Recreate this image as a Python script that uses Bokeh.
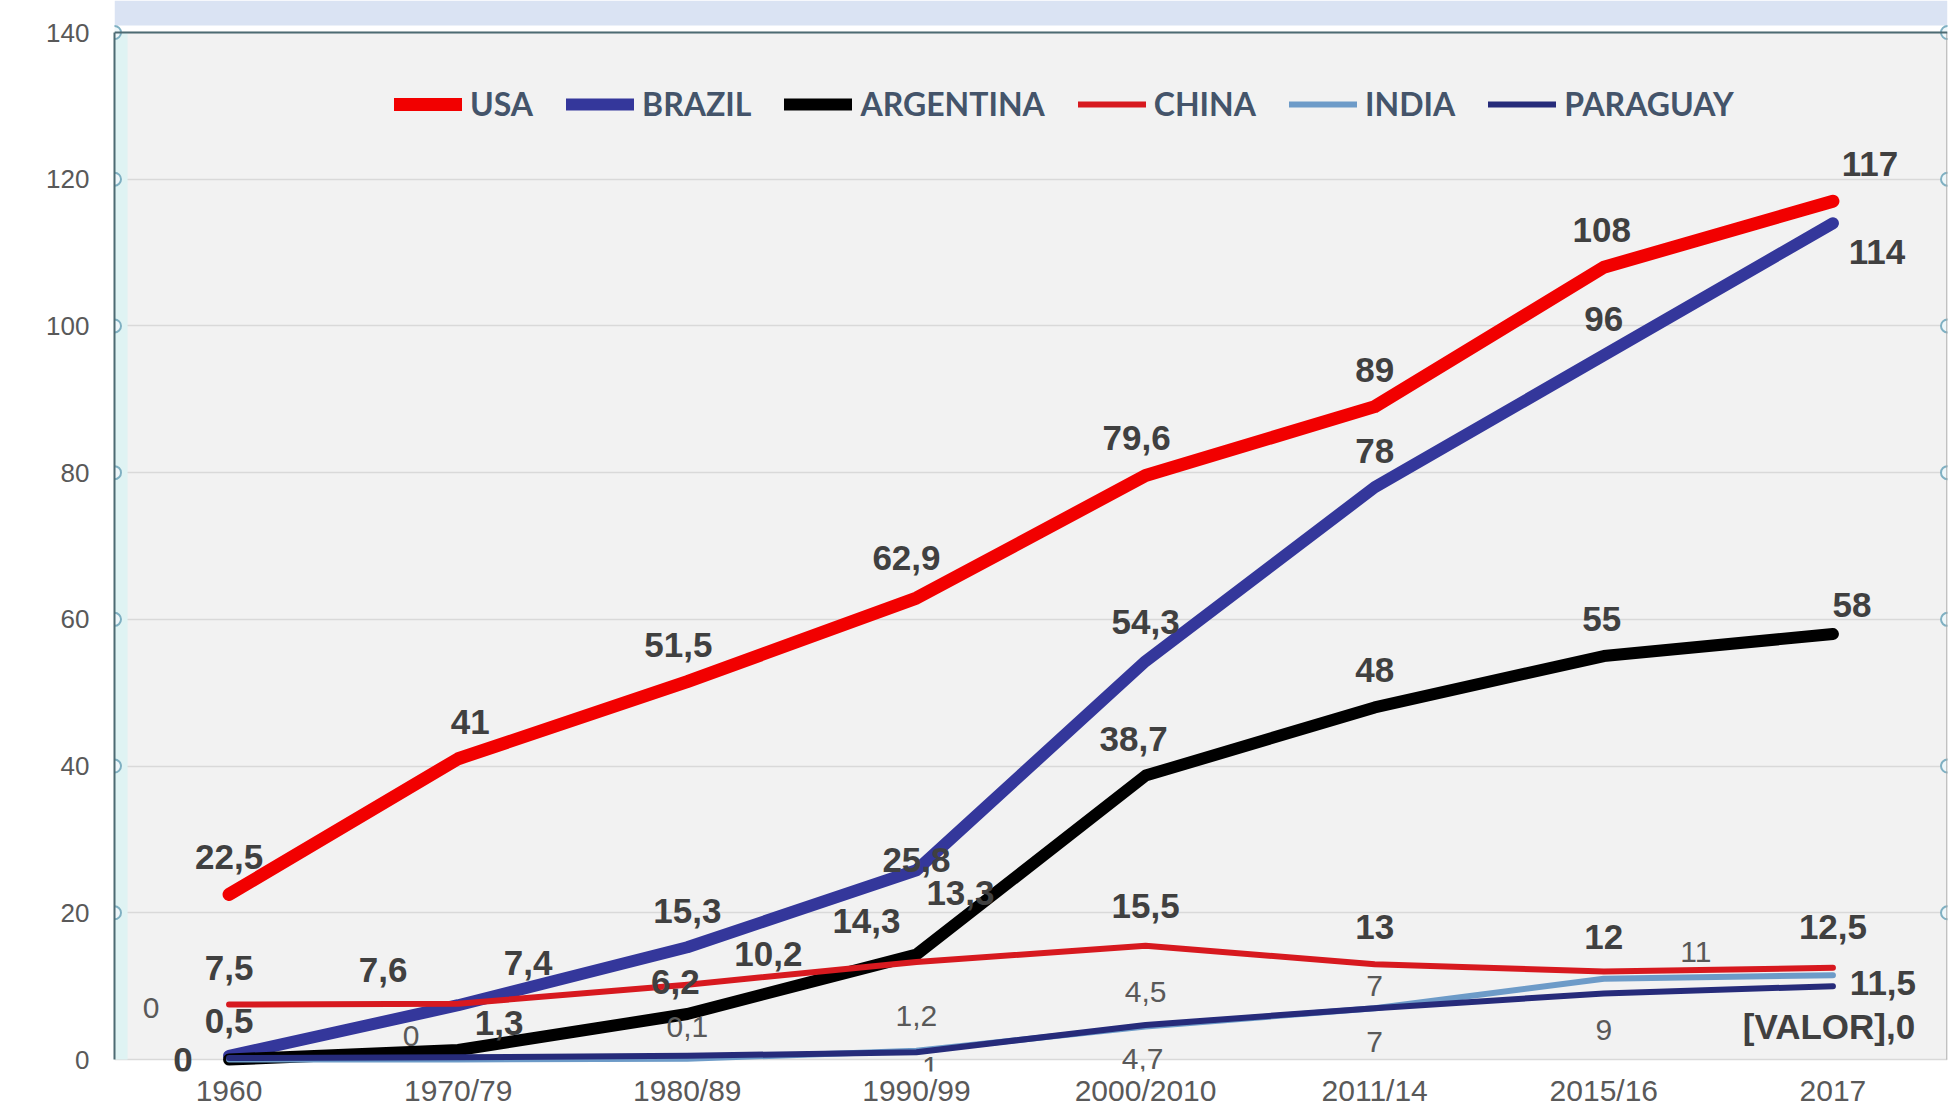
from bokeh.plotting import figure
from bokeh.models import (FactorRange, Range1d, Legend, LegendItem, ColumnDataSource,
                          Span, BoxAnnotation, FixedTicker)
from bokeh.embed import file_html
from bokeh.resources import INLINE
from bokeh.core.properties import value

# ---------------- data ----------------
periods = ["1960", "1970/79", "1980/89", "1990/99", "2000/2010", "2011/14", "2015/16", "2017"]
usa = [22.5, 41, 51.5, 62.9, 79.6, 89, 108, 117]
brazil = [0.5, 7.4, 15.3, 25.8, 54.3, 78, 96, 114]
argentina = [0, 1.3, 6.2, 14.3, 38.7, 48, 55, 58]
china = [7.5, 7.6, 10.2, 13.3, 15.5, 13, 12, 12.5]
india = [0, 0, 0.1, 1.2, 4.5, 7, 11, 11.5]
paraguay = [0.2, 0.3, 0.5, 1, 4.7, 7, 9, 10]
paraguay_labels = ["", "", "", "1", "4,7", "7", "9", "[VALOR],0"]
y_ticks = [0, 20, 40, 60, 80, 100, 120, 140]
handle_ticks = [20, 40, 60, 80, 100, 120, 140]
y_max = 140


def fmt(v):
    return str(int(v)) if float(v).is_integer() else str(v).replace(".", ",")


# ---------------- label placement (pixels) ----------------
usa_dx = [0, 12, -9, -10, -9, 0, -2, 37]
usa_dy = [37, 37, 37, 40, 38, 37, 37, 37]
brazil_dx = [0, 70, 0, 0, 0, 0, 0, 44]
brazil_dy = [35, 42, 36, 10, 39, 36, 36, -29]
argentina_dx = [-46, 41, -12, -50, -12, 0, -2, 19]
argentina_dy = [0, 27, 32, 34, 37, 37, 37, 29]
china_dx = [0, -75, 81, 44, 0, 0, 0, 0]
china_dy = [36, 34, 31, 69, 40, 37, 34, 41]
india_dx = [-78, -47, 0, 0, 0, 0, 92, 50]
india_dy = [52, 24, 32, 35, 34, 22, 27, -8]
paraguay_dx = [0, 0, 0, 14, -3, 0, 0, -4]
paraguay_dy = [0, 0, 0, -15, -34, -34, -37, -40]
india_bold = [False] * 7 + [True]
paraguay_bold = [False] * 7 + [True]

# ---------------- layout ----------------
W, H = 1950, 1112
TOP_GAP = 32        # canvas px from top to the 140 line
ZERO_Y = 1059       # canvas px of the 0 line
FRAME_BOTTOM = 1071 # frame extends a little below 0 so labels are not cut
px_per_unit = (ZERO_Y - TOP_GAP) / y_max
y_top = y_max + TOP_GAP / px_per_unit
y_bottom = -(FRAME_BOTTOM - ZERO_Y) / px_per_unit
band_bottom = y_max + (TOP_GAP - 25) / px_per_unit

p = figure(x_range=FactorRange(*periods), y_range=Range1d(y_bottom, y_top),
           width=W, height=H, output_backend="svg", toolbar_location=None,
           min_border_left=114, min_border_right=3, min_border_top=0,
           min_border_bottom=H - FRAME_BOTTOM,
           background_fill_color="white", border_fill_color="white",
           outline_line_color=None)

# axes
p.yaxis.ticker = FixedTicker(ticks=y_ticks)
p.yaxis.bounds = (0, y_max)
p.yaxis.axis_line_color = "#4d6b73"
p.yaxis.axis_line_width = 2
p.yaxis.major_tick_line_color = None
p.yaxis.minor_tick_line_color = None
p.yaxis.major_tick_out = 0
p.yaxis.major_tick_in = 0
p.yaxis.major_label_text_font = "Liberation Sans"
p.yaxis.major_label_text_font_size = "26px"
p.yaxis.major_label_text_color = "#595959"
p.yaxis.major_label_standoff = 25

p.xaxis.axis_line_color = None
p.xaxis.major_tick_line_color = None
p.xaxis.major_tick_out = 0
p.xaxis.major_tick_in = 0
p.xaxis.major_label_text_font = "Liberation Sans"
p.xaxis.major_label_text_font_size = "30px"
p.xaxis.major_label_text_color = "#595959"
p.xaxis.major_label_standoff = 2

p.xgrid.grid_line_color = None
p.ygrid.ticker = FixedTicker(ticks=y_ticks)
p.ygrid.grid_line_color = "#d9d9d9"
p.ygrid.grid_line_width = 1.5

# decorations: plot area, title band, selection-like frame
p.add_layout(BoxAnnotation(bottom=0, top=y_max, fill_color="#f2f2f2", fill_alpha=1,
                           line_alpha=0, level="image"))
p.add_layout(BoxAnnotation(bottom=band_bottom, fill_color="#dae3f3", fill_alpha=1,
                           line_alpha=0, level="underlay"))
p.add_layout(BoxAnnotation(left=0, right=0.057, bottom=0, top=y_max,
                           fill_color="#dff3f3", fill_alpha=1,
                           line_alpha=0, level="underlay"))
p.add_layout(BoxAnnotation(left=7.995, bottom=0, top=y_max, fill_color="#a6a6a6",
                           fill_alpha=1, line_alpha=0))
p.add_layout(Span(location=y_max, dimension="width", line_color="#4d6b73", line_width=2))

# series lines
series = [
    ("USA", usa, "#f20000", 13),
    ("BRAZIL", brazil, "#34379b", 12),
    ("ARGENTINA", argentina, "#000000", 12),
    ("CHINA", china, "#d7191f", 6),
    ("INDIA", india, "#6d9bc8", 6),
    ("PARAGUAY", paraguay, "#262b7a", 6),
]
items = []
for name, vals, color, lw in series:
    r = p.line(x=periods, y=vals, line_color=color, line_width=lw,
               line_cap="round", line_join="round")
    items.append(LegendItem(label=name, renderers=[r]))

# handles on frame edges
hx = [0] * len(handle_ticks) + [8] * len(handle_ticks)
hy = handle_ticks + handle_ticks
p.scatter(x=hx, y=hy, marker="circle", size=13, fill_color="#eef7fa",
          line_color="#7fb0c2", line_width=2)

# data labels
label_sets = [
    (usa, [fmt(v) for v in usa], usa_dx, usa_dy, [True] * 8),
    (brazil, [fmt(v) for v in brazil], brazil_dx, brazil_dy, [True] * 8),
    (argentina, [fmt(v) for v in argentina], argentina_dx, argentina_dy, [True] * 8),
    (china, [fmt(v) for v in china], china_dx, china_dy, [True] * 8),
    (india, [fmt(v) for v in india], india_dx, india_dy, india_bold),
    (paraguay, paraguay_labels, paraguay_dx, paraguay_dy, paraguay_bold),
]
for vals, texts, dx, dy, bold in label_sets:
    src = ColumnDataSource(dict(
        x=periods, y=vals, text=texts, dx=dx, dy=[-d for d in dy],
        style=["bold" if b else "normal" for b in bold],
        size=["35px" if b else "30px" for b in bold],
        color=["#404040" if b else "#595959" for b in bold],
    ))
    p.text(x="x", y="y", text="text", x_offset="dx", y_offset="dy", source=src,
           text_font=value("Liberation Sans"), text_font_style="style",
           text_font_size="size", text_color="color",
           text_align="center", text_baseline="middle")

legend = Legend(items=items, orientation="horizontal",
                location=(280, 936 + FRAME_BOTTOM - ZERO_Y),
                background_fill_alpha=0, border_line_color=None,
                label_text_font="Lato", label_text_font_style="bold",
                label_text_font_size="32px", label_text_color="#44546a",
                glyph_width=68, glyph_height=20, label_standoff=8, spacing=33,
                padding=0, margin=0)
p.add_layout(legend)

open("out.html", "w").write(file_html(p, INLINE))
